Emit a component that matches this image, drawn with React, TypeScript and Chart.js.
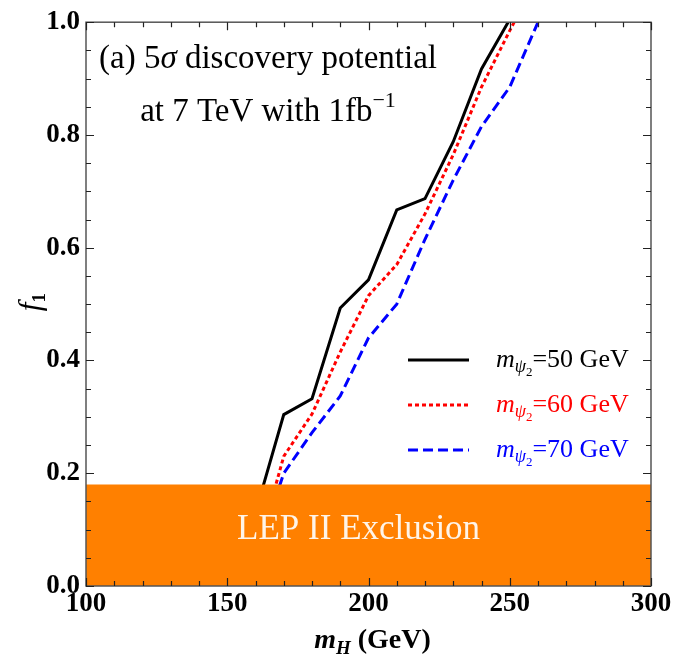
import React, { useEffect, useRef } from 'react';
import { Chart, registerables } from 'chart.js';
Chart.register(...registerables);

// ---- data ----
const mH_50 = [160, 170, 180, 190, 200, 210, 220, 230, 240, 250, 260];
const f1_50 = [0.13, 0.304, 0.332, 0.493, 0.543, 0.667, 0.687, 0.788, 0.917, 1.005, 1.1];

const mH_60 = [160, 170, 180, 190, 200, 210, 220, 230, 240, 250, 260];
const f1_60 = [0.05, 0.23, 0.305, 0.415, 0.515, 0.57, 0.66, 0.765, 0.885, 0.985, 1.08];

const mH_70 = [160, 170, 180, 190, 200, 210, 220, 230, 240, 250, 260, 270];
const f1_70 = [0.05, 0.2, 0.272, 0.337, 0.44, 0.5, 0.615, 0.72, 0.815, 0.885, 1.0, 1.1];

const lepX = [100, 300];
const lepY = [0.18, 0.18];

const xTicks = [100, 150, 200, 250, 300];
const yTicks = [0.0, 0.2, 0.4, 0.6, 0.8, 1.0];

const legendLabels = ['=50 GeV', '=60 GeV', '=70 GeV'];
const seriesColors = ['#000000', '#FF0000', '#0000FF'];
const seriesDashes: number[][] = [[], [4, 3], [10, 5]];

const SERIF = '"Liberation Serif", "Times New Roman", serif';

type Part = { text: string; font: string; dy?: number };

function drawRich(ctx: CanvasRenderingContext2D, x: number, y: number, parts: Part[], align: 'left' | 'center', color: string) {
  let total = 0;
  const widths = parts.map((p) => {
    ctx.font = p.font;
    const w = ctx.measureText(p.text).width;
    total += w;
    return w;
  });
  let cx = align === 'center' ? x - total / 2 : x;
  ctx.fillStyle = color;
  ctx.textBaseline = 'alphabetic';
  ctx.textAlign = 'left';
  parts.forEach((p, i) => {
    ctx.font = p.font;
    ctx.fillText(p.text, cx, y + (p.dy || 0));
    cx += widths[i];
  });
}

const framePlugin = {
  id: 'framePlugin',
  afterDraw(chart: any) {
    const { ctx, chartArea: a, scales } = chart;
    const xs = scales.x;
    const ys = scales.y;
    ctx.save();

    // LEP label
    ctx.font = `35px ${SERIF}`;
    ctx.fillStyle = '#FFF4E8';
    ctx.textAlign = 'center';
    ctx.textBaseline = 'middle';
    ctx.fillText('LEP II Exclusion', xs.getPixelForValue(196.5), ys.getPixelForValue(0.1));

    // frame
    ctx.strokeStyle = '#555555';
    ctx.lineWidth = 1.5;
    ctx.strokeRect(a.left, a.top, a.right - a.left, a.bottom - a.top);

    // inward ticks
    ctx.strokeStyle = '#222222';
    ctx.lineWidth = 1.2;
    ctx.beginPath();
    for (let v = 100; v <= 300; v += 10) {
      const px = Math.round(xs.getPixelForValue(v)) + 0.5;
      const len = v % 50 === 0 ? 8 : 5;
      ctx.moveTo(px, a.bottom);
      ctx.lineTo(px, a.bottom - len);
      ctx.moveTo(px, a.top);
      ctx.lineTo(px, a.top + len);
    }
    for (let k = 0; k <= 20; k++) {
      const py = Math.round(ys.getPixelForValue(k * 0.05)) + 0.5;
      const len = k % 4 === 0 ? 8 : 5;
      ctx.moveTo(a.left, py);
      ctx.lineTo(a.left + len, py);
      ctx.moveTo(a.right, py);
      ctx.lineTo(a.right - len, py);
    }
    ctx.stroke();

    // annotation
    drawRich(ctx, 268, 68, [
      { text: '(a) 5', font: `33px ${SERIF}` },
      { text: 'σ', font: `italic 33px ${SERIF}` },
      { text: ' discovery potential', font: `33px ${SERIF}` },
    ], 'center', '#000');
    drawRich(ctx, 268, 121, [
      { text: 'at 7 TeV with 1fb', font: `33px ${SERIF}` },
      { text: '−1', font: `22px ${SERIF}`, dy: -14 },
    ], 'center', '#000');

    // legend
    const legY = [360, 405, 450];
    for (let i = 0; i < 3; i++) {
      ctx.strokeStyle = seriesColors[i];
      ctx.lineWidth = 3;
      ctx.setLineDash(seriesDashes[i]);
      ctx.beginPath();
      ctx.moveTo(408, legY[i]);
      ctx.lineTo(469, legY[i]);
      ctx.stroke();
      ctx.setLineDash([]);
      drawRich(ctx, 496, legY[i] + 7, [
        { text: 'm', font: `italic 26px ${SERIF}` },
        { text: 'ψ', font: `italic 18px ${SERIF}`, dy: 5 },
        { text: '2', font: `13px ${SERIF}`, dy: 9 },
        { text: legendLabels[i], font: `26px ${SERIF}` },
      ], 'left', seriesColors[i]);
    }

    // x title
    drawRich(ctx, (a.left + a.right) / 2 + 4, 648, [
      { text: 'm', font: `italic bold 28px ${SERIF}` },
      { text: 'H', font: `italic bold 19px ${SERIF}`, dy: 6 },
      { text: ' (GeV)', font: `bold 28px ${SERIF}` },
    ], 'center', '#000');

    // y title
    ctx.save();
    ctx.translate(40, (a.top + a.bottom) / 2 - 2);
    ctx.rotate(-Math.PI / 2);
    drawRich(ctx, 0, 0, [
      { text: 'f', font: `italic 31px ${SERIF}` },
      { text: '1', font: `bold 19px ${SERIF}`, dy: 5 },
    ], 'center', '#000');
    ctx.restore();

    ctx.restore();
  },
};

export default function App() {
  const ref = useRef<HTMLCanvasElement>(null);
  useEffect(() => {
    document.body.style.margin = '0';
    if (!ref.current) return;
    const mk = (xs: number[], ys: number[]) => xs.map((x, i) => ({ x, y: ys[i] }));
    const chart = new Chart(ref.current, {
      type: 'line',
      data: {
        datasets: [
          {
            label: 'LEP II Exclusion',
            data: mk(lepX, lepY),
            borderWidth: 0,
            borderColor: 'rgba(0,0,0,0)',
            backgroundColor: '#FF8000',
            fill: 'origin',
            pointRadius: 0,
            clip: 0,
          } as any,
          {
            label: 'm50',
            data: mk(mH_50, f1_50),
            borderColor: seriesColors[0],
            borderWidth: 3,
            borderDash: seriesDashes[0],
            pointRadius: 0,
            fill: false,
            tension: 0,
            clip: 0,
          },
          {
            label: 'm60',
            data: mk(mH_60, f1_60),
            borderColor: seriesColors[1],
            borderWidth: 3,
            borderDash: seriesDashes[1],
            pointRadius: 0,
            fill: false,
            tension: 0,
            clip: 0,
          },
          {
            label: 'm70',
            data: mk(mH_70, f1_70),
            borderColor: seriesColors[2],
            borderWidth: 3,
            borderDash: seriesDashes[2],
            pointRadius: 0,
            fill: false,
            tension: 0,
            clip: 0,
          },
        ],
      },
      options: {
        animation: false,
        responsive: false,
        maintainAspectRatio: false,
        layout: { padding: { top: 21, right: 24, left: 0, bottom: 0 } },
        plugins: { legend: { display: false }, tooltip: { enabled: false } },
        scales: {
          x: {
            type: 'linear',
            min: 100,
            max: 300,
            afterBuildTicks: (s: any) => { s.ticks = xTicks.map((v) => ({ value: v })); },
            ticks: {
              font: { family: SERIF, size: 27, weight: 'bold' },
              color: '#000',
              padding: 2,
              maxRotation: 0,
              autoSkip: false,
              callback: (v: any) => String(v),
            },
            grid: { display: false, drawTicks: false },
            border: { display: false },
            afterFit: (s: any) => { s.height = 71; },
          },
          y: {
            type: 'linear',
            min: 0,
            max: 1,
            afterBuildTicks: (s: any) => { s.ticks = yTicks.map((v) => ({ value: v })); },
            ticks: {
              font: { family: SERIF, size: 27, weight: 'bold' },
              color: '#000',
              padding: 6,
              autoSkip: false,
              callback: (v: any) => Number(v).toFixed(1),
            },
            grid: { display: false, drawTicks: false },
            border: { display: false },
            afterFit: (s: any) => { s.width = 86; },
          },
        },
      } as any,
      plugins: [framePlugin],
    });
    return () => chart.destroy();
  }, []);
  return (
    <div style={{ width: 675, height: 657, background: '#fff' }}>
      <canvas ref={ref} width={675} height={657} />
    </div>
  );
}
